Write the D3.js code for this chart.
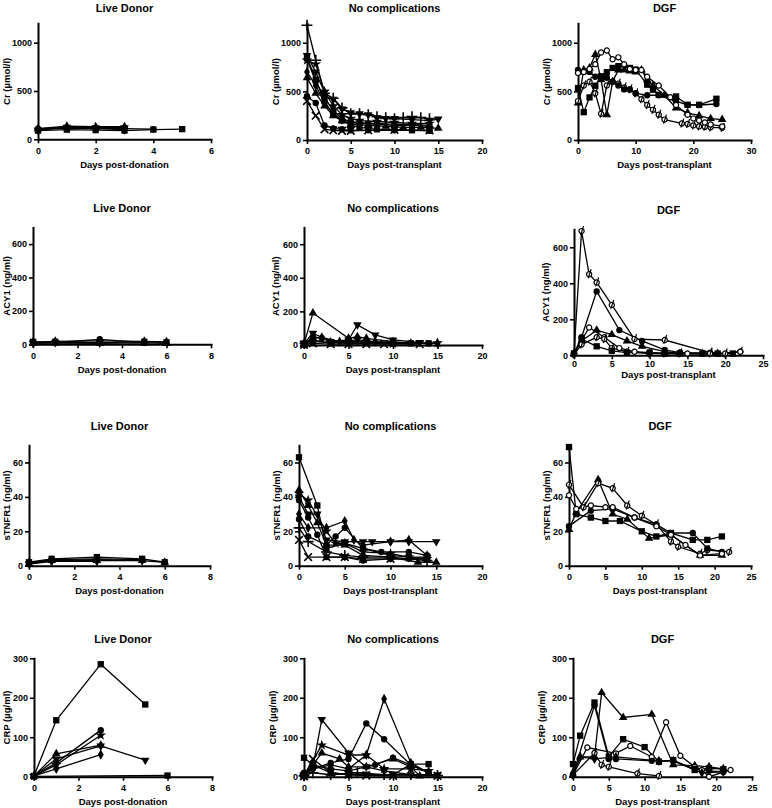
<!DOCTYPE html>
<html><head><meta charset="utf-8">
<script src="https://cdn.jsdelivr.net/npm/d3@7"></script>
<style>
body{margin:0;background:#fff;}
svg text{font-family:"Liberation Sans",Arial,sans-serif;font-weight:bold;fill:#000;}
</style></head><body><svg id="chart" width="772" height="808"></svg>
<script>
// ---------------- DATA ----------------
const groupTitles = ["Live Donor", "No complications", "DGF"];
const xAxisLabels = ["Days post-donation", "Days post-transplant", "Days post-transplant"];
const yAxisLabels = ["Cr (µmol/l)", "ACY1 (ng/ml)", "sTNFR1 (ng/ml)", "CRP (µg/ml)"];

const yTicksCr = [0, 500, 1000];
const yTicksAcy = [0, 200, 400, 600];
const yTicksTnf = [0, 20, 40, 60];
const yTicksCrp = [0, 100, 200, 300];
const xTicksLive6 = [0, 2, 4, 6];
const xTicksLive8 = [0, 2, 4, 6, 8];
const xTicks20 = [0, 5, 10, 15, 20];
const xTicks25 = [0, 5, 10, 15, 20, 25];
const xTicks30 = [0, 10, 20, 30];

// Cr
const crLive = [
  [[0,90],[1,100],[2,95],[3,90],[4,100],[5,105]],
  [[0,110],[1,120],[2,115],[3,110],[4,105]],
  [[0,110],[1,135],[2,130],[3,130]],
  [[0,95],[1,125],[2,120],[3,120]],
  [[0,100],[1,115],[2,110],[3,100]]
];
const crNoComp = [
  [[0,1180],[1,820],[2,480],[3,430],[4,330],[5,270],[6,270],[7,260],[8,240],[9,230],[10,220],[11,230],[12,240],[13,230],[14,220]],
  [[0,870],[1,700],[2,490],[3,420],[4,320],[5,280],[6,270],[7,260],[8,230],[9,220],[10,220],[12,210],[14,200],[15,215]],
  [[0,850],[1,620],[2,400],[3,260],[4,200],[5,150],[6,130],[7,120],[8,110],[10,110],[12,100],[14,95]],
  [[0,830],[1,600],[2,440],[3,300],[4,220],[5,190],[6,180],[7,170],[8,170],[10,160],[12,160],[14,150]],
  [[0,700],[1,560],[2,380],[3,270],[4,210],[5,180],[6,170],[8,160],[10,150],[12,150],[14,140]],
  [[0,640],[1,480],[2,350],[3,250],[4,200],[5,160],[7,150],[9,140],[11,130],[13,130],[15,120]],
  [[0,450],[1,380],[2,150],[3,120],[4,110],[5,100],[7,100],[10,100],[14,100]],
  [[0,400],[1,250],[2,110],[3,100],[4,95],[5,95],[7,100],[10,105],[14,100]],
  [[0,820],[1,780],[2,500],[3,350],[4,260],[5,220],[6,200],[8,190],[10,180],[12,170],[14,170]]
];
const crDGF = [
  [[0,534],[1,286],[2,438],[3,558],[4,655],[5,697],[6,741],[7,759],[9,741],[10,724],[12,569],[13,517],[14,465],[17,448],[19,362],[21,362],[24,424]],
  [[0,380],[1,720],[2,740],[3,880],[4,620],[5,260],[6,600],[7,720],[8,720],[9,710],[10,700],[11,720],[12,620],[13,560],[15,460],[17,330],[19,280],[21,250],[23,220],[25,210]],
  [[0,400],[1,560],[2,600],[3,480],[4,270],[5,560],[6,600],[7,580],[8,540],[9,520],[10,480],[11,420],[12,360],[13,310],[14,260],[15,210],[18,170],[19,165],[20,150],[21,140],[22,135],[23,130],[25,125]],
  [[0,720],[1,700],[2,700],[3,650],[4,640],[5,640],[6,600],[7,560],[8,520],[9,520],[10,480],[12,460],[14,460],[17,400],[19,360],[21,360],[24,370]],
  [[0,690],[1,700],[2,730],[3,780],[4,900],[5,920],[6,830],[7,850],[8,780],[9,730],[10,720],[11,720],[12,650],[14,560],[16,440],[17,360],[19,260],[20,220],[21,200],[22,180],[23,160],[25,140]]
];

// ACY1
const acyLive = [
  [[0,15],[1,15],[3,10],[5,15],[6,12]],
  [[0,10],[1,12],[3,30],[5,10]],
  [[0,5],[1,8],[3,5],[5,8],[6,5]],
  [[0,8],[1,10],[3,8]],
  [[0,12],[1,18],[3,20],[5,18],[6,15]]
];
const acyNoComp = [
  [[0,5],[1,190],[5,40],[6,50],[7,40],[10,20],[12,10]],
  [[0,10],[1,70],[3,20],[5,30],[6,120],[8,60],[10,30],[13,15]],
  [[0,5],[1,50],[2,40],[3,20],[5,15],[7,20],[10,10],[14,10]],
  [[0,8],[1,30],[3,10],[5,25],[7,15],[10,15],[12,10],[14,10]],
  [[0,5],[1,40],[2,45],[4,20],[6,30],[8,20],[10,15],[15,10]],
  [[0,3],[1,20],[3,15],[5,10],[7,10],[10,8],[15,12]],
  [[0,2],[1,10],[3,5],[5,5],[7,5],[9,5],[13,5]]
];
const acyDGF = [
  [[0,10],[1,690],[2,450],[3,405],[5,280],[8,90],[12,85],[18,15],[20,10],[22,20]],
  [[0,10],[1,100],[3,355],[6,140],[9,80],[12,30],[14,15],[17,10],[19,8]],
  [[0,10],[2,155],[4,100],[6,40],[8,20],[10,15],[12,10],[15,10],[17,10],[19,8],[22,20]],
  [[0,10],[1,80],[3,140],[5,115],[7,80],[9,50],[12,20],[14,10],[17,10],[19,10]],
  [[0,5],[1,60],[3,100],[4,90],[5,40],[7,20],[10,10],[12,10],[14,10],[18,10]],
  [[0,10],[1,90],[3,50],[5,25],[7,15],[10,15],[12,10],[14,10],[17,10],[19,10],[21,10]]
];

// sTNFR1
const tnfLive = [
  [[0,2],[1,4],[3,5],[5,4],[6,2]],
  [[0,1.5],[1,3.5],[3,4],[5,3.5]],
  [[0,1],[1,3],[3,3],[5,3],[6,2]],
  [[0,1],[1,2.5],[3,2.5]],
  [[0,2],[1,3],[3,3.5],[5,3]]
];
const tnfNoComp = [
  [[0,63],[2,35],[3,10],[5,13],[7,10],[10,6],[12,5],[14,5]],
  [[0,40],[1,30],[2,30],[3,15],[5,14],[7,14],[8,14],[10,14],[12,14],[15,14]],
  [[0,30],[1,22],[3,22],[5,26],[6,15],[7,12],[10,14],[12,15],[14,6]],
  [[0,44],[1,35],[2,25],[3,12],[5,12],[7,6],[10,5],[13,2],[15,2]],
  [[0,27],[1,17],[3,12],[4,17],[5,22],[7,10],[9,8],[12,8],[14,6]],
  [[0,42],[1,38],[3,20],[4,13],[5,13],[7,8],[10,7],[12,5],[14,4]],
  [[0,38],[1,28],[2,18],[3,5],[5,5],[7,3],[10,4],[12,4],[14,4]],
  [[0,15],[1,5],[3,5],[5,5],[7,4],[10,4],[14,4]],
  [[0,22],[1,14],[3,8],[5,6],[7,5],[10,5],[14,3]]
];
const tnfDGF = [
  [[0,69],[1,30],[3,28],[5,26],[7,26],[10,20],[12,17],[14,19],[17,15],[19,15],[21,17]],
  [[0,21],[1,31],[4,50],[6,30],[8,27],[11,16],[14,18],[18,6],[21,6]],
  [[0,47],[2,34],[4,48],[6,45],[8,35],[10,29],[12,24],[14,14],[15,11],[18,7],[19,9],[22,8]],
  [[0,23],[3,32],[6,33],[9,28],[12,24],[14,19],[17,19],[19,10],[21,8]],
  [[0,41],[1,33],[3,35],[5,34],[6,34],[9,28],[12,23],[14,18],[16,12],[18,6],[21,7]]
];

// CRP
const crpLive = [
  [[0,2],[1,143],[3,285],[5,183]],
  [[0,2],[1,35],[3,118]],
  [[0,2],[1,58],[3,80]],
  [[0,2],[1,45],[3,78],[5,42]],
  [[0,2],[1,20],[3,56]],
  [[0,2],[1,30],[3,105]],
  [[0,1],[6,3]]
];
const crpNoComp = [
  [[0,5],[1,25],[2,145],[5,60],[7,25],[9,15],[12,5],[15,5]],
  [[0,2],[1,20],[3,30],[5,20],[7,55],[9,197],[12,35],[14,10]],
  [[0,10],[1,20],[3,35],[5,45],[7,135],[9,95],[12,30],[14,10]],
  [[0,48],[1,30],[3,10],[5,5],[7,5],[10,5],[12,32],[14,32]],
  [[0,3],[2,80],[5,55],[7,55],[9,20],[12,20],[14,15]],
  [[0,2],[2,60],[4,45],[5,25],[7,25],[10,45],[12,25],[13,2]],
  [[0,1],[1,45],[3,10],[5,5],[7,3],[10,2],[15,2]],
  [[0,5],[1,30],[3,20],[5,15],[8,30],[10,48],[12,30],[14,10]],
  [[0,2],[1,10],[3,5],[6,10],[9,5],[12,5],[15,3]]
];
const crpDGF = [
  [[0,32],[1,104],[3,188],[5,51],[7,95],[10,75],[12,38],[14,42],[17,17],[19,21],[21,19]],
  [[0,4],[1,50],[3,50],[4,213],[7,150],[11,158],[14,30],[17,28],[19,25],[21,20]],
  [[0,4],[2,74],[6,59],[8,78],[11,50],[13,138],[15,53],[17,25],[18,17],[19,0],[22,17]],
  [[0,4],[3,60],[4,30],[5,25],[9,8],[12,2]],
  [[0,5],[3,180],[5,45],[6,45],[11,40],[14,40],[17,20],[19,15],[21,12]],
  [[0,10],[1,50],[3,45],[6,50],[12,40],[14,40],[18,10],[21,12]]
];

// marker shapes per panel series
const mLive = ["square","circle","triangle","triangleDown","diamond","star","square"];
const mNoComp9 = ["plus","triangleDown","square","circle","diamond","triangle","circle","times","star"];
const mAcyNoComp = ["triangle","triangleDown","circle","square","diamond","star","times"];
const mTnfNoComp = ["square","triangleDown","diamond","triangle","circle","star","circle","times","plus"];
const mCrpNoComp = ["triangleDown","diamond","circle","square","star","triangle","times","circle","plus"];
const mCrDGF = ["square","triangle","ocslash","circle","ocircle"];
const mAcyDGF = ["ocslash","circle","ocircle","triangle","ocslash","square"];
const mTnfDGF = ["square","triangle","ocslash","circle","ocircle"];
const mCrpDGF = ["square","triangle","ocircle","ocslash","circle","diamond"];

// ---------------- LAYOUT ----------------
const svg = d3.select("#chart");
const yLabelOffset = [31, 28, 22, 31];

const panels = [
  {r:0,c:0,data:crLive,mk:mLive,xMax:6,xt:xTicksLive6,yMax:1200,yt:yTicksCr,L:38,R:211,T:23.3,B:139.3},
  {r:0,c:1,data:crNoComp,mk:mNoComp9,xMax:20,xt:xTicks20,yMax:1200,yt:yTicksCr,L:307,R:482,T:23.3,B:140},
  {r:0,c:2,data:crDGF,mk:mCrDGF,xMax:30,xt:xTicks30,yMax:1200,yt:yTicksCr,L:578,R:751,T:23.3,B:140},
  {r:1,c:0,data:acyLive,mk:mLive,xMax:8,xt:xTicksLive8,yMax:700,yt:yTicksAcy,L:33,R:211,T:227.4,B:344.3},
  {r:1,c:1,data:acyNoComp,mk:mAcyNoComp,xMax:20,xt:xTicks20,yMax:700,yt:yTicksAcy,L:304,R:482,T:227.4,B:345},
  {r:1,c:2,data:acyDGF,mk:mAcyDGF,xMax:25,xt:xTicks25,yMax:700,yt:yTicksAcy,L:574,R:763,T:229.3,B:355.3,tickDy:7,labDy:19},
  {r:2,c:0,data:tnfLive,mk:mLive,xMax:8,xt:xTicksLive8,yMax:70,yt:yTicksTnf,L:29,R:210,T:445.3,B:565.7},
  {r:2,c:1,data:tnfNoComp,mk:mTnfNoComp,xMax:20,xt:xTicks20,yMax:70,yt:yTicksTnf,L:299,R:482,T:445.3,B:565.7},
  {r:2,c:2,data:tnfDGF,mk:mTnfDGF,xMax:25,xt:xTicks25,yMax:70,yt:yTicksTnf,L:569,R:751,T:445.3,B:565.7},
  {r:3,c:0,data:crpLive,mk:mLive,xMax:8,xt:xTicksLive8,yMax:300,yt:yTicksCrp,L:34,R:212,T:658.3,B:776.7},
  {r:3,c:1,data:crpNoComp,mk:mCrpNoComp,xMax:20,xt:xTicks20,yMax:300,yt:yTicksCrp,L:304,R:482,T:658.3,B:776.7},
  {r:3,c:2,data:crpDGF,mk:mCrpDGF,xMax:25,xt:xTicks25,yMax:300,yt:yTicksCrp,L:573,R:752,T:658.3,B:776.7}
];

function drawMarker(g, type, cx, cy) {
  const gg = g.append("g").attr("transform", `translate(${cx},${cy})`);
  const sym = (t, size) => d3.symbol().type(t).size(size)();
  switch (type) {
    case "square": gg.append("path").attr("d", sym(d3.symbolSquare, 40)).attr("fill", "#000"); break;
    case "circle": gg.append("path").attr("d", sym(d3.symbolCircle, 32)).attr("fill", "#000"); break;
    case "triangle": gg.append("path").attr("d", sym(d3.symbolTriangle, 32)).attr("fill", "#000"); break;
    case "triangleDown": gg.append("path").attr("d", sym(d3.symbolTriangle, 32)).attr("transform","rotate(180)").attr("fill", "#000"); break;
    case "diamond": gg.append("path").attr("d", sym(d3.symbolDiamond, 30)).attr("fill", "#000"); break;
    case "star": gg.append("path").attr("d", sym(d3.symbolStar, 36)).attr("fill", "#000"); break;
    case "plus": gg.append("path").attr("d", sym(d3.symbolPlus, 40)).attr("fill", "none").attr("stroke", "#000").attr("stroke-width", 1.6); break;
    case "times": gg.append("path").attr("d", sym(d3.symbolTimes, 40)).attr("fill", "none").attr("stroke", "#000").attr("stroke-width", 1.6); break;
    case "ocircle": gg.append("circle").attr("r", 2.6).attr("fill", "#fff").attr("stroke", "#000").attr("stroke-width", 1.2); break;
    case "ocslash":
      gg.append("circle").attr("r", 2.6).attr("fill", "#fff").attr("stroke", "#000").attr("stroke-width", 1.2);
      gg.append("line").attr("x1", -1).attr("y1", 4).attr("x2", 2).attr("y2", -5).attr("stroke", "#000").attr("stroke-width", 1.2);
      break;
  }
}

const fmt = d3.format("d");

panels.forEach(p => {
  const x = d3.scaleLinear().domain([0, p.xMax]).range([p.L, p.R]);
  const y = d3.scaleLinear().domain([0, p.yMax]).range([p.B, p.T]);
  const g = svg.append("g");
  const tickDy = p.tickDy || 10;
  const labDy = p.labDy || 25;

  // axes
  const ax = g.append("g").attr("transform", `translate(0,${p.B})`)
    .call(d3.axisBottom(x).tickValues(p.xt).tickFormat(fmt).tickSize(4).tickSizeOuter(0).tickPadding(tickDy - 6));
  const ay = g.append("g").attr("transform", `translate(${p.L},0)`)
    .call(d3.axisLeft(y).tickValues(p.yt).tickFormat(fmt).tickSize(4).tickSizeOuter(0).tickPadding(2));
  [ax, ay].forEach(a => {
    a.select(".domain").attr("stroke", "#000").attr("stroke-width", 2).attr("stroke-linecap", "square");
    a.selectAll(".tick line").attr("stroke", "#000").attr("stroke-width", 1.6);
    a.selectAll(".tick text").attr("font-size", 9).attr("font-family", "'Liberation Sans',Arial,sans-serif").attr("font-weight", "bold").attr("fill", "#000");
  });

  // title
  g.append("text").attr("x", (p.L + p.R) / 2).attr("y", Math.max(p.T - 19, 8)).attr("dy", "0.35em")
    .attr("text-anchor", "middle").attr("font-size", 11).text(groupTitles[p.c]);
  // x label
  g.append("text").attr("x", (p.L + p.R) / 2).attr("y", p.B + labDy).attr("dy", "0.35em")
    .attr("text-anchor", "middle").attr("font-size", 9.5).text(xAxisLabels[p.c]);
  // y label
  const yl = Math.max(p.L - yLabelOffset[p.r], 7);
  g.append("text").attr("transform", `translate(${yl},${(p.T + p.B) / 2}) rotate(-90)`)
    .attr("dy", "0.35em").attr("text-anchor", "middle").attr("font-size", 9.5).text(yAxisLabels[p.r]);

  const line = d3.line().x(d => x(d[0])).y(d => y(d[1]));
  p.data.forEach((s, i) => {
    g.append("path").attr("d", line(s)).attr("fill", "none").attr("stroke", "#000").attr("stroke-width", 1.3);
  });
  p.data.forEach((s, i) => {
    const t = p.mk[i % p.mk.length];
    s.forEach(d => drawMarker(g, t, x(d[0]), y(d[1])));
  });
});
</script></body></html>
